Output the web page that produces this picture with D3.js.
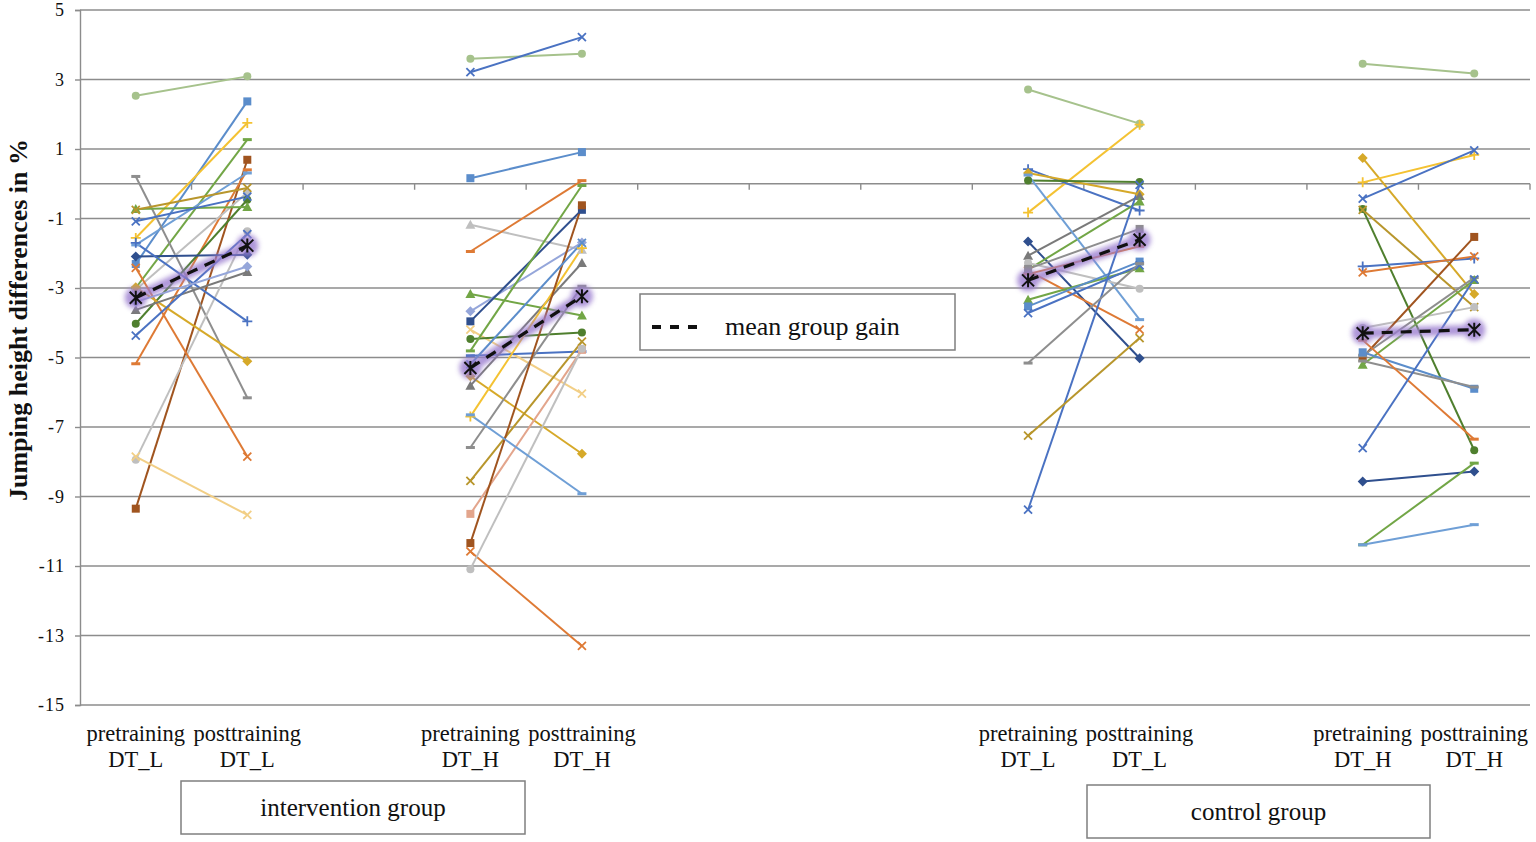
<!DOCTYPE html>
<html><head><meta charset="utf-8">
<script src="https://cdn.jsdelivr.net/npm/d3@7"></script>
<style>html,body{margin:0;padding:0;background:#fff;} svg{display:block;}</style>
</head><body><svg id="chart" width="1536" height="842"></svg>
<script>
// ---------- DATA ----------
const categories = ["pre_int_L","post_int_L","gap_a","pre_int_H","post_int_H","gap_b","gap_c","gap_d","pre_con_L","post_con_L","gap_e","pre_con_H","post_con_H"];
const categoryLabels = [["pretraining","DT_L"],["posttraining","DT_L"],[],["pretraining","DT_H"],["posttraining","DT_H"],[],[],[],["pretraining","DT_L"],["posttraining","DT_L"],[],["pretraining","DT_H"],["posttraining","DT_H"]];
const yTicks = [5,3,1,-1,-3,-5,-7,-9,-11,-13,-15];
const groupLabels = ["intervention group","control group"];
const legendLabel = "mean group gain";
const yTitle = "Jumping height differences in %";

// intervention group, DT_L
const intL_pre  = [2.53,-2.31,-1.56,-3.0,-9.35,-5.18,-1.76,0.21,-7.94,-3.05,-4.03,-0.73,-0.75,-1.08,-2.09,-1.70,-2.42,-2.98,-7.85,-3.63,-4.37,-3.40];
const intL_post = [3.09,2.37,1.75,1.27,0.69,0.40,0.31,-6.16,-1.37,-0.25,-0.46,-0.67,-0.12,-0.37,-2.04,-3.96,-7.85,-5.11,-9.53,-2.54,-1.45,-2.38];
const intL_mean = [-3.28,-1.78];
// intervention group, DT_H
const intH_pre  = [3.60,3.21,0.16,-1.18,-1.95,-3.17,-3.67,-3.96,-4.20,-4.47,-4.81,-4.95,-5.54,-5.81,-6.70,-7.59,-8.55,-9.50,-10.34,-10.58,-11.09,-6.65,-5.20];
const intH_post = [3.74,4.22,0.91,-1.90,0.09,-3.79,-1.69,-0.75,-6.04,-4.28,-0.05,-4.83,-7.77,-2.28,-1.85,-2.95,-4.54,-4.78,-0.62,-13.30,-4.75,-8.92,-1.70];
const intH_mean = [-5.30,-3.24];
// control group, DT_L
const conL_pre  = [2.71,-0.83,0.42,0.31,0.09,-1.66,-2.07,-2.47,0.25,-2.28,-2.50,-2.60,-2.45,-3.34,-3.53,-3.72,-9.38,-5.16,-7.25];
const conL_post = [1.73,1.70,-0.77,-0.30,0.05,-5.02,-0.35,-0.51,-3.91,-3.02,-4.20,-1.80,-1.30,-2.43,-2.24,-2.35,-0.03,-2.30,-4.44];
const conL_mean = [-2.78,-1.61];
// control group, DT_H
const conH_pre  = [3.45,0.74,0.04,-0.43,-0.73,-0.75,-2.38,-2.55,-4.15,-5.00,-4.95,-5.21,-4.85,-5.10,-4.50,-7.61,-8.57,-10.39,-10.39];
const conH_post = [3.17,-3.17,0.83,0.96,-7.67,-3.55,-2.15,-2.09,-3.55,-1.53,-2.70,-2.77,-5.90,-5.85,-7.35,-2.75,-8.28,-8.04,-9.81];
const conH_mean = [-4.30,-4.20];

// ---------- STYLES ----------
const C = {
  paleGreen:"#A6C28C", blue:"#4A72C2", steel:"#5B8DCB", yellow:"#F4C232", green:"#72A646",
  brown:"#A0541F", orange:"#DE7A35", lightBlue:"#6F9FD6", gray:"#8E8E8E", lightGray:"#BFBFBF",
  olive:"#B8962C", darkGreen:"#4F7F2E", darkBlue:"#2F4F8E", gold:"#D6A929", paleYellow:"#F2CF86",
  lavender:"#95A6DA", pink:"#E3A58C", darkGray:"#7A7A7A"
};
const intL_style = [["paleGreen","circle"],["steel","square"],["yellow","plus"],["green","dash"],["brown","square"],["orange","dash"],["lightBlue","dash"],["gray","dash"],["lightGray","circle"],["lightGray","circle"],["darkGreen","circle"],["green","triangle"],["olive","x"],["blue","x"],["darkBlue","diamond"],["blue","plus"],["orange","x"],["gold","diamond"],["paleYellow","x"],["darkGray","triangle"],["blue","x"],["lavender","diamond"]];
const intH_style = [["paleGreen","circle"],["blue","x"],["steel","square"],["lightGray","triangle"],["orange","dash"],["green","triangle"],["lavender","diamond"],["darkBlue","square"],["paleYellow","x"],["darkGreen","circle"],["green","dash"],["blue","dash"],["gold","diamond"],["darkGray","triangle"],["yellow","plus"],["gray","dash"],["olive","x"],["pink","square"],["brown","square"],["orange","x"],["lightGray","circle"],["lightBlue","dash"],["steel","x"]];
const conL_style = [["paleGreen","circle"],["yellow","plus"],["blue","plus"],["gold","diamond"],["darkGreen","circle"],["darkBlue","diamond"],["darkGray","triangle"],["green","triangle"],["lightBlue","dash"],["lightGray","circle"],["orange","x"],["orange","dash"],["gray","square"],["green","triangle"],["steel","square"],["blue","x"],["blue","x"],["gray","dash"],["olive","x"]];
const conH_style = [["paleGreen","circle"],["gold","diamond"],["yellow","plus"],["blue","x"],["darkGreen","circle"],["olive","x"],["blue","plus"],["orange","x"],["lightGray","circle"],["brown","square"],["gray","dash"],["green","triangle"],["steel","square"],["gray","dash"],["orange","dash"],["blue","x"],["darkBlue","diamond"],["green","dash"],["lightBlue","dash"]];

const panels = [
  {pre:"pre_int_L", post:"post_int_L", a:intL_pre, b:intL_post, st:intL_style, mean:intL_mean},
  {pre:"pre_int_H", post:"post_int_H", a:intH_pre, b:intH_post, st:intH_style, mean:intH_mean},
  {pre:"pre_con_L", post:"post_con_L", a:conL_pre, b:conL_post, st:conL_style, mean:conL_mean},
  {pre:"pre_con_H", post:"post_con_H", a:conH_pre, b:conH_post, st:conH_style, mean:conH_mean}
];

// ---------- LAYOUT ----------
const svg = d3.select("#chart");
const pL = 80, pR = 1530, pT = 10, pB = 705;
const x = d3.scaleBand().domain(categories).range([pL, pR]).padding(0);
const cx = k => x(k) + x.bandwidth()/2;
const y = d3.scaleLinear().domain([-15,5]).range([pB, pT]);
const serif = "'Liberation Serif','Times New Roman',serif";
const gridColor = "#8C8C8C";

const defs = svg.append("defs");
defs.append("filter").attr("id","glow").attr("x","-50%").attr("y","-50%").attr("width","200%").attr("height","200%")
  .append("feGaussianBlur").attr("stdDeviation",2.6);

// gridlines
svg.append("g").selectAll("line").data(yTicks).join("line")
  .attr("x1",pL).attr("x2",pR).attr("y1",d=>y(d)).attr("y2",d=>y(d))
  .attr("stroke",gridColor).attr("stroke-width",1.4);

// y axis
const yAxis = d3.axisLeft(y).tickValues(yTicks).tickSize(5).tickFormat(d=>String(d));
const ya = svg.append("g").attr("transform",`translate(${pL},0)`).call(yAxis);
ya.select(".domain").attr("stroke",gridColor).attr("stroke-width",1.4);
ya.selectAll(".tick line").attr("stroke",gridColor).attr("stroke-width",1.4);
ya.selectAll(".tick text").attr("font-family",serif).attr("font-size",18).attr("fill","#111").attr("x",-15).attr("letter-spacing",1);

// x axis at 0
const xa = svg.append("g").attr("transform",`translate(0,${y(0)})`);
xa.append("line").attr("x1",pL).attr("x2",pR).attr("stroke",gridColor).attr("stroke-width",1.4);
xa.selectAll("line.tk").data(categories.slice(1).map(c=>x(c)).concat([pR])).join("line").attr("class","tk")
  .attr("x1",d=>d).attr("x2",d=>d).attr("y1",0).attr("y2",6).attr("stroke",gridColor).attr("stroke-width",1.4);

// category labels
const cl = svg.append("g");
categories.forEach((c,i)=>{
  categoryLabels[i].forEach((t,j)=>{
    cl.append("text").attr("x",cx(c)).attr("y",741 + j*26).attr("text-anchor","middle")
      .attr("font-family",serif).attr("font-size",22.5).attr("fill","#111").text(t);
  });
});

// y title
svg.append("text").attr("transform","translate(27,320) rotate(-90)").attr("text-anchor","middle")
  .attr("font-family",serif).attr("font-weight","bold").attr("font-size",26).attr("fill","#111").text(yTitle);

// markers
function marker(g, type, px, py, color){
  const s = 4;
  switch(type){
    case "circle": g.append("circle").attr("cx",px).attr("cy",py).attr("r",4).attr("fill",color); break;
    case "square": g.append("rect").attr("x",px-4).attr("y",py-4).attr("width",8).attr("height",8).attr("fill",color); break;
    case "diamond": g.append("path").attr("d",`M${px},${py-5}L${px+5},${py}L${px},${py+5}L${px-5},${py}Z`).attr("fill",color); break;
    case "triangle": g.append("path").attr("d",`M${px},${py-5}L${px+5},${py+4}L${px-5},${py+4}Z`).attr("fill",color); break;
    case "x": g.append("path").attr("d",`M${px-s},${py-s}L${px+s},${py+s}M${px-s},${py+s}L${px+s},${py-s}`).attr("stroke",color).attr("stroke-width",1.8).attr("fill","none"); break;
    case "plus": g.append("path").attr("d",`M${px-5},${py}H${px+5}M${px},${py-5}V${py+5}`).attr("stroke",color).attr("stroke-width",1.8).attr("fill","none"); break;
    case "dash": g.append("path").attr("d",`M${px-4.5},${py}H${px+4.5}`).attr("stroke",color).attr("stroke-width",3).attr("fill","none"); break;
    case "star": g.append("path").attr("d",`M${px-6},${py-6}L${px+6},${py+6}M${px-6},${py+6}L${px+6},${py-6}M${px},${py-7}V${py+7}`).attr("stroke",color).attr("stroke-width",2).attr("fill","none"); break;
  }
}

// series
const sg = svg.append("g");
panels.forEach(p=>{
  const x1 = cx(p.pre), x2 = cx(p.post);
  p.a.forEach((v,i)=>{
    const col = C[p.st[i][0]];
    sg.append("line").attr("x1",x1).attr("x2",x2).attr("y1",y(v)).attr("y2",y(p.b[i]))
      .attr("stroke",col).attr("stroke-width",2);
  });
  p.a.forEach((v,i)=>{
    const col = C[p.st[i][0]], mk = p.st[i][1];
    marker(sg, mk, x1, y(v), col);
    marker(sg, mk, x2, y(p.b[i]), col);
  });
});

// means
const mg = svg.append("g");
panels.forEach(p=>{
  const x1 = cx(p.pre), x2 = cx(p.post);
  const glow = mg.append("g").attr("filter","url(#glow)").attr("opacity",0.8);
  glow.append("line").attr("x1",x1).attr("x2",x2).attr("y1",y(p.mean[0])).attr("y2",y(p.mean[1]))
    .attr("stroke","#9A7CCF").attr("stroke-width",10).attr("stroke-linecap","round");
  glow.append("circle").attr("cx",x1).attr("cy",y(p.mean[0])).attr("r",11).attr("fill","#9A7CCF");
  glow.append("circle").attr("cx",x2).attr("cy",y(p.mean[1])).attr("r",11).attr("fill","#9A7CCF");
  mg.append("line").attr("x1",x1).attr("x2",x2).attr("y1",y(p.mean[0])).attr("y2",y(p.mean[1]))
    .attr("stroke","#111").attr("stroke-width",3.2).attr("stroke-dasharray","11,8");
  marker(mg,"star",x1,y(p.mean[0]),"#111");
  marker(mg,"star",x2,y(p.mean[1]),"#111");
});

// legend box
const lg = svg.append("g");
lg.append("rect").attr("x",640).attr("y",294).attr("width",315).attr("height",56)
  .attr("fill","#fff").attr("stroke","#7F7F7F").attr("stroke-width",1.5);
lg.append("line").attr("x1",652).attr("x2",702).attr("y1",327).attr("y2",327)
  .attr("stroke","#111").attr("stroke-width",4).attr("stroke-dasharray","9,9");
lg.append("text").attr("x",725).attr("y",335).attr("font-family",serif).attr("font-size",26).attr("fill","#111").text(legendLabel);

// group boxes
const boxes = [{x:181,y:781,w:344,h:53,t:groupLabels[0]},{x:1087,y:785,w:343,h:53,t:groupLabels[1]}];
boxes.forEach(b=>{
  svg.append("rect").attr("x",b.x).attr("y",b.y).attr("width",b.w).attr("height",b.h)
    .attr("fill","#fff").attr("stroke","#7F7F7F").attr("stroke-width",1.5);
  svg.append("text").attr("x",b.x+b.w/2).attr("y",b.y+b.h/2+8).attr("text-anchor","middle")
    .attr("font-family",serif).attr("font-size",25).attr("fill","#111").text(b.t);
});
</script></body></html>
